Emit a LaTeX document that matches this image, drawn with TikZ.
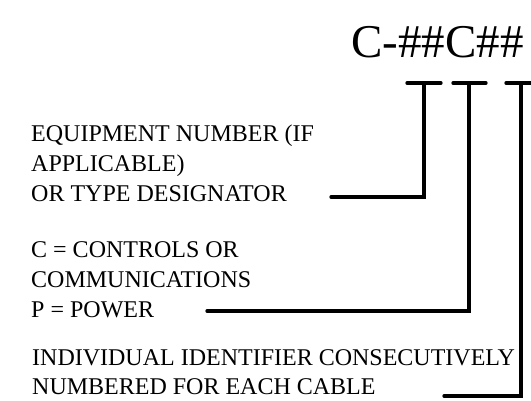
\documentclass[tikz,border=0pt]{standalone}
\usepackage{fontspec}
\setmainfont{Liberation Serif}
\begin{document}
\begin{tikzpicture}[x=1pt,y=-1pt,
  label/.style={anchor=base west,inner sep=0pt,align=left,font=\fontsize{24}{30}\selectfont},
  cable/.style={line width=3.3pt,line cap=round,line join=miter}]
\useasboundingbox (0,0) rectangle (531,401);
% title
\node[anchor=base west,inner sep=0pt,font=\fontsize{47}{50}\selectfont] (code) at (351,58) {C-\#\#C\#\#};
% text blocks (anchor = baseline of last line)
\node[label] (equip) at (31,202) {EQUIPMENT NUMBER (IF\\APPLICABLE)\\OR TYPE DESIGNATOR};
\node[label] (type) at (31,317) {C = CONTROLS OR\\COMMUNICATIONS\\P = POWER};
\node[label] (ident) at (32,395) {INDIVIDUAL IDENTIFIER CONSECUTIVELY\\NUMBERED FOR EACH CABLE};
% T tops
\coordinate (t1) at (424,83);
\coordinate (t2) at (469,83);
\coordinate (t3) at (521,83);
\coordinate (t1l) at (407,83); \coordinate (t1r) at (441,83);
\coordinate (t2l) at (453,83); \coordinate (t2r) at (486,83);
\coordinate (t3l) at (506,83); \coordinate (t3r) at (537,83);
% free ends near labels
\coordinate (e1) at (331,197);
\coordinate (e2) at (207,311);
\coordinate (e3) at (444,396);
\draw[cable] (t1l) -- (t1r);
\draw[cable] (t2l) -- (t2r);
\draw[cable] (t3l) -- (t3r);
\draw[cable] (e1) -| (t1);
\draw[cable] (e2) -| (t2);
\draw[cable] (e3) -| (t3);
\end{tikzpicture}
\end{document}
